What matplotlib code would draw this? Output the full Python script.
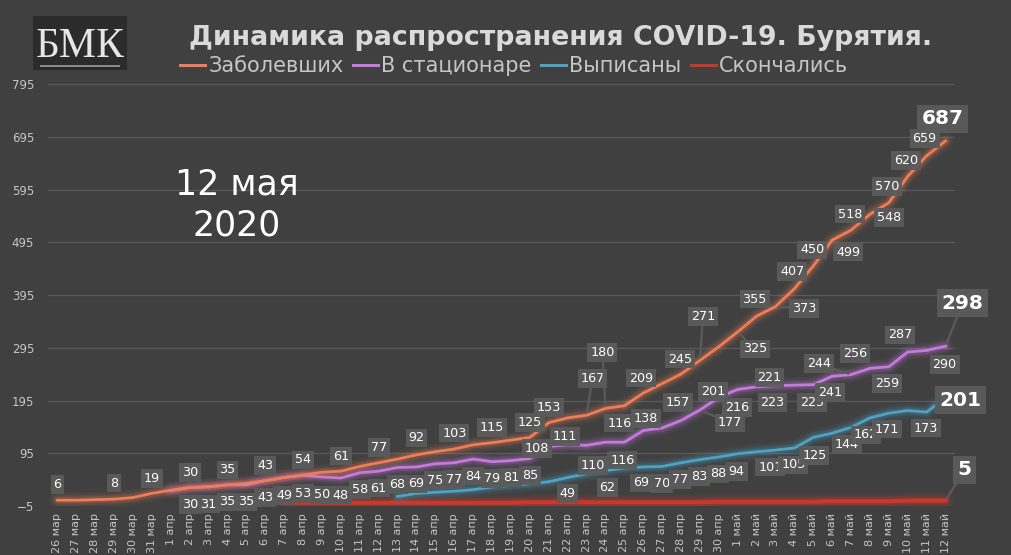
import matplotlib
matplotlib.use("Agg")
import matplotlib.pyplot as plt
import numpy as np
from matplotlib.lines import Line2D
from matplotlib.patches import Rectangle

# ---------------- data ----------------
dates = ([f"{d} мар" for d in range(26, 32)] + [f"{d} апр" for d in range(1, 31)]
         + [f"{d} май" for d in range(1, 13)])

confirmed = [6, 6, 7, 8, 11, 19,
             25, 30, 32, 35, 38, 43, 49, 54, 59, 61, 70, 77, 84, 92, 98, 103, 111, 115, 120, 125,
             153, 162, 167, 180, 185, 209, 227, 245, 271, 297,
             325, 355, 373, 407, 450, 499, 518, 548, 570, 620, 659, 687]
hospital = [None, None, None, None, None, None,
            24, 30, 31, 35, 35, 43, 49, 53, 50, 48, 58, 61, 68, 69, 75, 77, 84, 79, 81, 85,
            108, 111, 110, 116, 116, 138, 143, 157, 177, 201,
            216, 221, 223, 224, 225, 241, 244, 256, 259, 287, 290, 298]
recovered = [None, None, None, None, None, None,
             None, None, None, None, None, None, None, None, None, None, None, None,
             13, 19, 21, 23, 26, 31, 34, 37, 41, 49, 56, 62, 67, 69, 70, 77, 83, 88,
             94, 98, 101, 105, 125, 133, 144, 162, 171, 176, 173, 201]
deaths = [None, None, None, None, None, None,
          None, None, None, None, None, None,
          1, 1, 1, 1, 1, 1, 1, 1, 1, 1, 1, 1, 1,
          2, 2, 2, 2, 2, 2, 2, 2, 2, 2, 3,
          3, 3, 3, 3, 3, 4, 4, 4, 4, 5, 5, 5]

series_names = ["Заболевших", "В стационаре", "Выписаны", "Скончались"]
title = "Динамика распространения COVID-19. Бурятия."
date_note = "12 мая\n2020"

# ---------------- label placement (pixel offsets: dx right, dy down) ----------------
lab_confirmed = {0: (0, -16), 3: (0, -16), 5: (0, -15), 7: (0, -15), 9: (0, -15), 11: (0, -15),
                 13: (0, -15), 15: (0, -15), 17: (0, -15), 19: (0, -17), 21: (0, -16), 23: (0, -15),
                 25: (0, -15), 26: (0, -15), 28: (6, -37), 29: (-3, -56), 31: (-2, -15), 33: (-1, -15),
                 34: (3, -44), 36: (17, 17), 37: (-2, -17), 38: (29, 2), 39: (-2, -17), 40: (-1, -16),
                 41: (16, 12), 42: (-1, -16), 43: (19, 3), 44: (-2, -16), 45: (-2, -16), 46: (-2, -17),
                 47: (-3, -22)}
lab_hospital = {7: (0, 17), 8: (0, 17), 9: (0, 17), 10: (0, 17), 11: (0, 17), 12: (0, 18), 13: (0, 18),
                14: (0, 18), 15: (0, 17), 16: (0, 17), 17: (0, 17), 18: (0, 17), 19: (0, 17), 20: (0, 17),
                21: (0, 17), 22: (0, 17), 23: (0, 17), 24: (0, 17), 25: (0, 17), 26: (-12, 2),
                27: (-3, -8), 28: (6, 20), 29: (14, -19), 30: (-2, 18), 31: (3, -12), 33: (-3, -18),
                34: (30, 13), 35: (-6, -6), 36: (-1, 18), 37: (13, -9), 38: (-3, 17), 40: (-1, 18),
                41: (-2, 16), 42: (-32, -11), 43: (-15, -15), 44: (-2, 17), 45: (-8, -17),
                46: (18, 14), 47: (17, -43)}
lab_recovered = {27: (0, 16), 29: (2, 17), 31: (-2, 16), 32: (0, 17), 33: (-1, 17), 34: (-1, 17),
                 35: (-1, 17), 36: (-1, 18), 38: (-5, 17), 39: (-1, 17), 40: (1, 18), 42: (-4, 17),
                 43: (-4, 17), 44: (-2, 16), 46: (-1, 16), 47: (15, 3)}
lab_deaths = {47: (19, -31)}

colors = ["#ee7d58", "#c77ade", "#4ea3c4", "#c8392c"]
BG = "#404040"
TXT = "#c6c6c6"
BOX = "#5b5b5b"

# ---------------- figure ----------------
fig = plt.figure(figsize=(10.12, 5.55), dpi=100, facecolor=BG)
W, H = 1012, 555
ax = fig.add_axes([48 / W, 1 - 506 / H, 907 / W, (506 - 84) / H])
ax.set_facecolor(BG)
x = np.arange(len(dates))

def glow_plot(vals, color, lw, z, glow=1.0):
    y = np.array(vals, dtype=float)
    for w, a in [(11, 0.07), (7.5, 0.11), (5, 0.18)]:
        ax.plot(x, y, color=color, lw=w, alpha=a * glow, solid_capstyle="round",
                solid_joinstyle="round", zorder=z)
    ax.plot(x, y, color=color, lw=lw, zorder=z + 0.5, solid_joinstyle="round")

glow_plot(deaths, colors[3], 2.8, 2, glow=1.7)
glow_plot(recovered, colors[2], 2.0, 3)
glow_plot(hospital, colors[1], 2.0, 4)
glow_plot(confirmed, colors[0], 2.0, 5)

def add_labels(vals, spec):
    last = len(vals) - 1
    for i, (dx, dy) in spec.items():
        v = vals[i]
        big = i == last
        fs = 14.5 if big else 9.2
        far = (dx * dx + dy * dy) ** 0.5 > 24
        ap = dict(arrowstyle="-", color=BOX, lw=1.6, shrinkA=0, shrinkB=2) if far else None
        ax.annotate(str(v), xy=(i, v), xytext=(dx, -dy), textcoords="offset pixels",
                    ha="center", va="center", fontsize=fs, color="white",
                    fontweight="bold" if big else "normal", family="DejaVu Sans",
                    bbox=dict(boxstyle="square,pad=0.22", fc=BOX, ec="none", alpha=0.95),
                    arrowprops=ap, zorder=10)

add_labels(confirmed, lab_confirmed)
add_labels(hospital, lab_hospital)
add_labels(recovered, lab_recovered)
add_labels(deaths, lab_deaths)

ax.set_xlim(-0.5, len(dates) - 0.5)
ax.set_ylim(-5, 795)
ax.set_yticks(np.arange(-5, 796, 100))
ax.set_xticks(x)
ax.set_xticklabels(dates, rotation=90, fontsize=8, color=TXT)
ax.tick_params(axis="y", length=0, pad=10, labelsize=8.5, labelcolor=TXT)
ax.tick_params(axis="x", length=0, pad=5)
ax.grid(axis="y", color="#595959", lw=0.9)
ax.set_axisbelow(True)
for s in ax.spines.values():
    s.set_visible(False)

# ---------------- title & legend ----------------
fig.text(561 / W, 1 - 45 / H, title, ha="center", va="baseline", fontsize=19.3,
         fontweight="bold", color="#dadada", family="DejaVu Sans")

handles = [Line2D([], [], color=c, lw=2.2) for c in colors]
leg = fig.legend(handles, series_names, ncol=4, loc="center", bbox_to_anchor=(514 / W, 1 - 66 / H),
                 frameon=False, fontsize=15, handlelength=1.2, handletextpad=0.15,
                 columnspacing=0.45, labelcolor=TXT)

fig.text(237 / W, 1 - 205 / H, date_note, ha="center", va="center", fontsize=25,
         color="white", family="DejaVu Sans", linespacing=1.25)

# ---------------- logo ----------------
fig.patches.append(Rectangle((33 / W, 1 - 70 / H), 94 / W, 54 / H, transform=fig.transFigure,
                             fc="#2b2b2b", ec="none"))
fig.patches.append(Rectangle((40 / W, 1 - 67 / H), 80 / W, 2 / H, transform=fig.transFigure,
                             fc="#8a8a8a", ec="none"))
fig.text(80 / W, 1 - 57 / H, "БМК", ha="center", va="baseline", fontsize=30,
         color="#e6e6e6", family="Liberation Serif")

fig.savefig("out.png", dpi=100, facecolor=BG)
